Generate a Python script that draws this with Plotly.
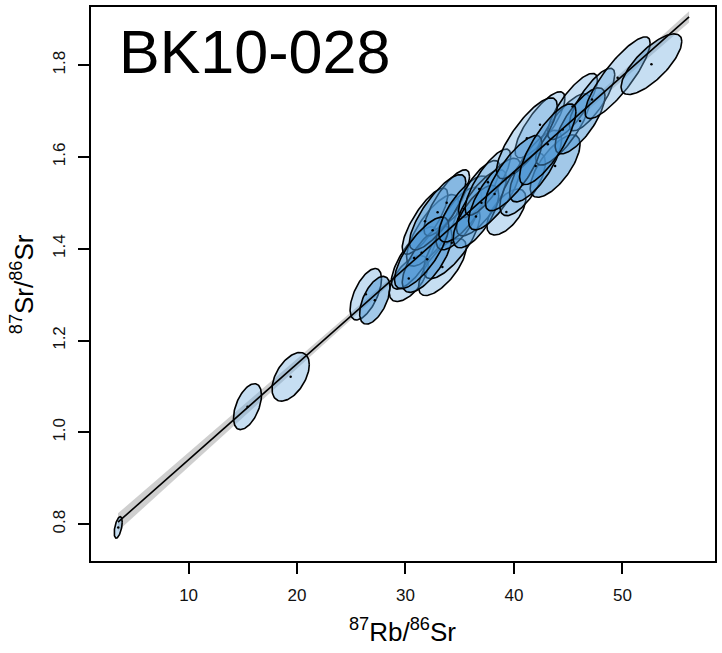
import numpy as np
import plotly.graph_objects as go

# ---------------- data ----------------
# ellipse centres, half extents (x and y) and error correlation
rb86 = [3.51, 15.43, 19.41, 26.34, 27.17,
        30.3, 30.8, 33.4, 32.5, 31.8, 34.27, 32.0, 34.92, 33.8, 32.96, 31.49, 35.38,
        36.8, 39.3, 37.0, 36.5, 37.6, 38.22,
        40.8, 42.4, 43.8, 42.0, 44.5, 45.4, 47.2, 41.19, 39.97, 46.10, 43.12,
        49.56, 52.68]
rb86_err = [0.37, 1.29, 1.72, 1.45, 1.40,
            1.8, 2.1, 2.2, 2.4, 2.1, 2.6, 2.3, 2.1, 2.1, 2.6, 2.5, 2.3,
            1.9, 1.8, 2.3, 2.1, 2.1, 2.4,
            2.1, 2.3, 2.3, 2.4, 2.5, 2.3, 2.1, 2.8, 2.6, 2.3, 2.6,
            3.0, 2.8]
sr86 = [0.7928, 1.056, 1.121, 1.3008, 1.2877,
        1.335, 1.38, 1.36, 1.44, 1.46, 1.4128, 1.377, 1.4657, 1.50, 1.4794, 1.391, 1.4866,
        1.53, 1.48, 1.50, 1.47, 1.545, 1.5191,
        1.54, 1.67, 1.58, 1.58, 1.66, 1.71, 1.725, 1.6407, 1.5647, 1.6785, 1.6277,
        1.7724, 1.802]
sr86_err = [0.0234, 0.050, 0.053, 0.056, 0.052,
            0.050, 0.068, 0.062, 0.078, 0.072, 0.078, 0.072, 0.068, 0.072, 0.082, 0.078, 0.072,
            0.062, 0.050, 0.072, 0.068, 0.072, 0.078,
            0.068, 0.072, 0.068, 0.078, 0.078, 0.072, 0.068, 0.088, 0.082, 0.072, 0.088,
            0.089, 0.066]
err_rho = [0.5, 0.5, 0.5, 0.6, 0.55,
           0.6, 0.75, 0.7, 0.75, 0.8, 0.75, 0.7, 0.7, 0.8, 0.8, 0.75, 0.75,
           0.75, 0.6, 0.75, 0.7, 0.8, 0.75,
           0.7, 0.8, 0.7, 0.75, 0.8, 0.8, 0.8, 0.8, 0.8, 0.75, 0.8,
           0.85, 0.75]
shade = [0, 0, 0, 0, 1,
         0, 0, 0, 0, 0, 0, 1, 1, 0, 1, 1, 1,
         0, 0, 0, 1, 0, 1,
         0, 0, 1, 1, 0, 0, 0, 0, 1, 1, 1,
         0, 0]

# isochron fit
iso_intercept = 0.7314
iso_slope = 0.0209
iso_x = [3.49, 56.15]
band_x0 = 36.0
band_se0 = 0.002
band_se_slope = 0.00029

x_ticks = [10, 20, 30, 40, 50]
y_ticks = [0.8, 1.0, 1.2, 1.4, 1.6, 1.8]
x_range = [1.0, 58.54]
y_range = [0.7197, 1.9266]
sample_name = "BK10-028"

fills = ["rgba(105,168,222,0.38)", "rgba(70,145,210,0.5)"]
FONT = "Liberation Sans, Arial, sans-serif"

fig = go.Figure()

# confidence band + line
xx = np.linspace(iso_x[0], iso_x[1], 120)
yy = iso_intercept + iso_slope * xx
hw = 2 * np.sqrt(band_se0 ** 2 + (xx - band_x0) ** 2 * band_se_slope ** 2)
fig.add_trace(go.Scatter(x=np.concatenate([xx, xx[::-1]]),
                         y=np.concatenate([yy + hw, (yy - hw)[::-1]]),
                         fill="toself", fillcolor="rgba(175,175,175,0.6)",
                         line=dict(width=0), mode="lines", hoverinfo="skip",
                         showlegend=False))

# ellipses
t = np.linspace(0, 2 * np.pi, 120)
for x, dx, y, dy, r, s in zip(rb86, rb86_err, sr86, sr86_err, err_rho, shade):
    ex = x + dx * np.cos(t)
    ey = y + dy * (r * np.cos(t) + np.sqrt(1 - r * r) * np.sin(t))
    fig.add_trace(go.Scatter(x=ex, y=ey, mode="lines", fill="toself",
                             fillcolor=fills[s],
                             line=dict(color="black", width=1.6),
                             hoverinfo="skip", showlegend=False))

fig.add_trace(go.Scatter(x=xx, y=yy, mode="lines",
                         line=dict(color="black", width=1.6),
                         hoverinfo="skip", showlegend=False))

fig.add_trace(go.Scatter(x=rb86, y=sr86, mode="markers",
                         marker=dict(color="black", size=2.5),
                         showlegend=False))

axis_common = dict(showgrid=False, zeroline=False, showline=True, mirror=True,
                   linecolor="black", linewidth=2, ticks="outside", ticklen=11,
                   tickwidth=1.5, tickcolor="black",
                   tickfont=dict(family=FONT, size=17, color="#111"))

W, H = 722, 653
L, R, T, B = 91, 5, 5, 92
pw, ph = W - L - R, H - T - B


def px_x(p):
    return (p - L) / pw


def px_y(p):
    return 1 - (p - T) / ph


fig.update_layout(
    width=W, height=H,
    margin=dict(l=L, r=R, t=T, b=B),
    paper_bgcolor="white", plot_bgcolor="white",
    xaxis=dict(range=x_range, tickvals=x_ticks, ticklabelstandoff=7, **axis_common),
    yaxis=dict(range=y_range, tickvals=y_ticks, tickangle=-90,
               tickformat=".1f", ticklabelstandoff=6, **axis_common),
    annotations=[
        dict(text=sample_name, x=px_x(117), y=px_y(50), xref="paper", yref="paper",
             showarrow=False, xanchor="left", yanchor="middle",
             font=dict(family=FONT, size=61, color="black")),
        dict(text="<sup>87</sup>Rb/<sup>86</sup>Sr", x=px_x(403), y=px_y(631),
             xref="paper", yref="paper", showarrow=False,
             xanchor="center", yanchor="middle",
             font=dict(family=FONT, size=26, color="black")),
        dict(text="<sup>87</sup>Sr/<sup>86</sup>Sr", x=px_x(22), y=px_y(283),
             xref="paper", yref="paper", showarrow=False, textangle=-90,
             xanchor="center", yanchor="middle",
             font=dict(family=FONT, size=26, color="black")),
    ],
)

fig.write_html("out.html", config={"displayModeBar": False},
               post_script="document.body.style.margin='0px';")
